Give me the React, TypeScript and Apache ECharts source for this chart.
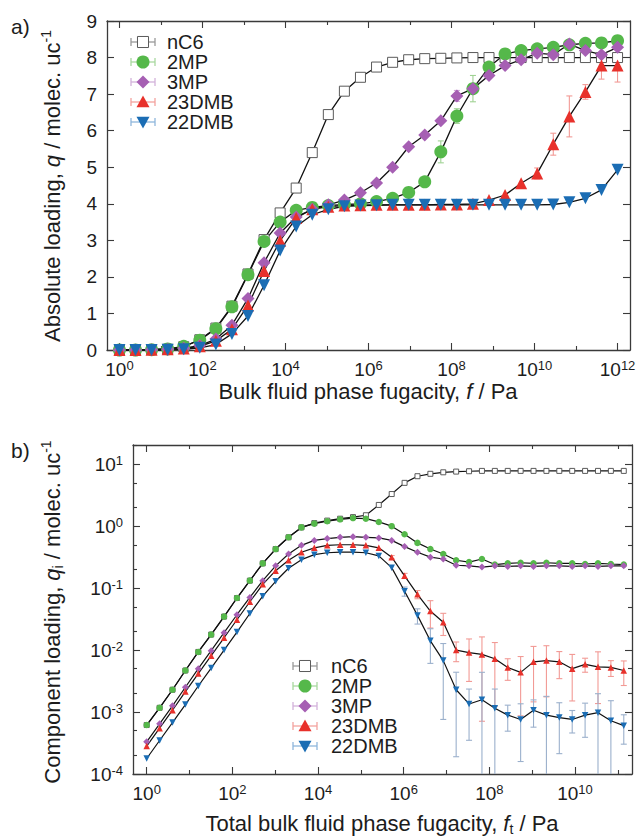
import { useEffect, useRef } from 'react';
import * as echarts from 'echarts';

// ---------- data ----------
const species = ['nC6', '2MP', '3MP', '23DMB', '22DMB'];

// (a) pure-component isotherms: fugacity (Pa) and absolute loading (molec./uc)
const pureFugacityPa = [
  1, 2.438, 5.945, 14.5, 35.35, 86.2, 210.2, 512.5, 1250, 3047,
  7430, 1.812e4, 4.417e4, 1.077e5, 2.626e5, 6.404e5, 1.562e6, 3.808e6, 9.284e6, 2.264e7,
  5.52e7, 1.346e8, 3.282e8, 8.002e8, 1.951e9, 4.758e9, 1.16e10, 2.829e10, 6.898e10, 1.682e11,
  4.101e11, 1e12,
];
const pureNC6 = [
  0.0, 0.0, 0.01, 0.02, 0.09, 0.28, 0.6, 1.2, 2.08, 3.02,
  3.75, 4.43, 5.4, 6.44, 7.08, 7.46, 7.74, 7.87, 7.94, 7.97,
  7.98, 7.99, 8.0, 8.0, 8.0, 8.0, 8.0, 8.0, 8.0, 8.0,
  8.0, 8.0,
];
const pure2MP = [
  0.0, 0.0, 0.01, 0.03, 0.1, 0.27, 0.58, 1.18, 2.06, 2.97,
  3.5, 3.82, 3.9, 3.95, 3.98, 4.0, 4.06, 4.15, 4.31, 4.6,
  5.42, 6.4, 7.15, 7.74, 8.1, 8.19, 8.24, 8.28, 8.35, 8.39,
  8.4, 8.46,
];
const pure3MP = [
  0.0, 0.0, 0.01, 0.02, 0.05, 0.12, 0.3, 0.68, 1.41, 2.39,
  3.2, 3.64, 3.85, 3.97, 4.1, 4.3, 4.57, 5.0, 5.56, 5.88,
  6.27, 6.95, 7.15, 7.51, 7.78, 7.94, 8.12, 8.08, 8.37, 8.19,
  8.08, 8.28,
];
const pure23DMB = [
  0.0, 0.0, 0.01, 0.02, 0.04, 0.1, 0.25, 0.57, 1.22, 2.16,
  2.99, 3.61, 3.85, 3.92, 3.95, 3.96, 3.97, 3.97, 3.97, 3.97,
  3.98, 3.98, 4.0, 4.1, 4.24, 4.56, 4.83, 5.63, 6.39, 7.06,
  7.78, 7.78,
];
const pure22DMB = [
  0.0, 0.0, 0.0, 0.01, 0.02, 0.06, 0.15, 0.44, 0.93, 1.77,
  2.72, 3.38, 3.7, 3.85, 3.93, 3.95, 3.96, 3.97, 3.97, 3.97,
  3.97, 3.97, 3.97, 3.97, 3.97, 3.97, 3.97, 3.98, 4.04, 4.15,
  4.38, 4.93,
];
const pureErr2MP = [
  0, 0, 0, 0, 0, 0, 0, 0, 0, 0,
  0, 0, 0, 0, 0, 0, 0, 0, 0, 0,
  0.3, 0.2, 0.36, 0, 0, 0, 0, 0, 0, 0,
  0, 0,
];
const pureErr3MP = [
  0, 0, 0, 0, 0, 0, 0, 0, 0, 0,
  0, 0, 0, 0, 0, 0, 0, 0, 0, 0,
  0, 0.15, 0.12, 0, 0, 0, 0, 0, 0, 0,
  0, 0,
];
const pureErr23DMB = [
  0, 0, 0, 0, 0, 0, 0, 0, 0, 0,
  0, 0, 0, 0, 0, 0, 0, 0, 0, 0,
  0, 0, 0, 0, 0, 0, 0.15, 0.3, 0.56, 0.2,
  0.37, 0.45,
];

// (b) equimolar mixture: total fugacity (Pa) and component loadings (molec./uc)
const mixFugacityPa = [
  1, 2, 4, 8, 16, 32, 64, 128, 256, 512,
  1024, 2048, 4096, 8192, 16384, 32768, 65536, 131072, 262144, 524288,
  1048576, 2097152, 4194304, 8388608, 16777216, 33554432, 67108864, 134217728, 268435456, 536870912,
  1073741824, 2147483648, 4294967296, 8589934592, 17179869184, 34359738368, 68719476736, 137438953472,
];
const mixNC6 = [
  6.17e-4, 1.17e-3, 2.29e-3, 4.68e-3, 9.33e-3, 0.0178, 0.0347, 0.0692, 0.132, 0.251,
  0.427, 0.661, 0.955, 1.12, 1.23, 1.32, 1.4, 1.5, 2.2, 3.3,
  5.0, 6.4, 7.0, 7.4, 7.6, 7.7, 7.8, 7.8, 7.8, 7.8,
  7.8, 7.8, 7.8, 7.8, 7.8, 7.8, 7.8, 7.8,
];
const mix2MP = [
  6.17e-4, 1.17e-3, 2.29e-3, 4.68e-3, 9.33e-3, 0.0178, 0.0347, 0.0692, 0.132, 0.251,
  0.427, 0.661, 0.955, 1.1, 1.2, 1.29, 1.35, 1.32, 1.17, 1.0,
  0.741, 0.537, 0.427, 0.355, 0.282, 0.263, 0.295, 0.24, 0.251, 0.257,
  0.251, 0.257, 0.251, 0.251, 0.245, 0.251, 0.245, 0.24,
];
const mix3MP = [
  3.31e-4, 6.46e-4, 1.26e-3, 2.51e-3, 5.01e-3, 9.77e-3, 0.0191, 0.0372, 0.0708, 0.132,
  0.229, 0.355, 0.49, 0.589, 0.631, 0.661, 0.676, 0.661, 0.646, 0.589,
  0.468, 0.38, 0.316, 0.295, 0.234, 0.229, 0.219, 0.229, 0.224, 0.229,
  0.224, 0.229, 0.229, 0.224, 0.229, 0.224, 0.229, 0.229,
];
const mix23DMB = [
  2.82e-4, 5.5e-4, 1.07e-3, 2.14e-3, 4.17e-3, 8.13e-3, 0.0158, 0.0309, 0.0603, 0.115,
  0.191, 0.282, 0.38, 0.447, 0.49, 0.501, 0.501, 0.49, 0.447, 0.316,
  0.158, 0.0794, 0.0427, 0.0282, 0.01, 0.00912, 0.00851, 0.00724, 0.00525, 0.00437,
  0.00646, 0.00676, 0.00646, 0.00501, 0.00589, 0.00537, 0.00525, 0.00468,
];
const mix22DMB = [
  1.78e-4, 3.47e-4, 6.76e-4, 1.32e-3, 2.63e-3, 5.13e-3, 0.01, 0.0195, 0.0389, 0.0741,
  0.129, 0.209, 0.288, 0.347, 0.372, 0.38, 0.38, 0.372, 0.331, 0.214,
  0.0891, 0.0363, 0.0141, 0.00676, 0.00229, 0.00135, 0.00158, 0.00115, 0.000891, 0.000759,
  0.00107, 0.000891, 0.000813, 0.000759, 0.000891, 0.000977, 0.000724, 0.000603,
];
const mixErr23DMB = [
  0, 0, 0, 0, 0, 0, 0, 0, 0, 0,
  0, 0, 0, 0, 0, 0, 0, 0, 0, 0.02,
  0.015, 0.012, 0.02, 0.011, 0.0035, 0.006, 0.0078, 0.006, 0.002, 0.0035,
  0.005, 0.005, 0.003, 0.0035, 0.0015, 0.004, 0.0015, 0.002,
];
const mixErr22DMB = [
  0, 0, 0, 0, 0, 0, 0, 0, 0, 0,
  0, 0, 0, 0, 0, 0, 0, 0, 0, 0,
  0.015, 0.01, 0.008, 0.006, 0.0021, 0.001, 0.0028, 0.0012, 0.0004, 0.0006,
  0.0005, 0.0009, 0.0006, 0.0003, 0.0005, 0.001, 0.0008, 0.0003,
];

// axis decades
const pureMajorDecades = [0, 2, 4, 6, 8, 10, 12];
const pureMinorDecades = [1, 3, 5, 7, 9, 11];
const mixMajorDecades = [0, 2, 4, 6, 8, 10];
const mixMinorDecades = [1, 3, 5, 7, 9, 11];
const loadingDecades = [-4, -3, -2, -1, 0, 1];

// ---------- styling ----------
const FONT = '"Liberation Sans", Arial, Helvetica, sans-serif';
const TXT = '#1c1c1c';
const AXIS = '#3a3a3a';
const LOG_Q_MIN = -4;

const LOOK: Record<string, any> = {
  nC6: { symbol: 'rect', fill: '#ffffff', stroke: '#5a5a5a', whisker: '#9a9a9a', err: '#9a9a9a', big: 10, small: 5 },
  '2MP': { symbol: 'circle', fill: '#55b84a', stroke: null, whisker: '#a9d8a0', err: '#9fd293', big: 13, small: 6.5 },
  '3MP': { symbol: 'diamond', fill: '#a65fb3', stroke: null, whisker: '#d3b2da', err: '#cfa6d8', big: 13, small: 7 },
  '23DMB': { symbol: 'triangle', fill: '#e8312b', stroke: null, whisker: '#f3a29e', err: '#f29a95', big: 12, small: 6.5 },
  '22DMB': { symbol: 'triangle', rotate: 180, fill: '#1b6db4', stroke: null, whisker: '#8fb6dc', err: '#9bb0cc', big: 12, small: 6.5 },
};

const tickStyle = { color: AXIS, width: 1.1 };
const lineStyleAxis = { color: AXIS, width: 1.3 };

const powRich = {
  b: { fontSize: 19, fontFamily: FONT, color: TXT, lineHeight: 20 },
  s: { fontSize: 13, fontFamily: FONT, color: TXT, verticalAlign: 'top', lineHeight: 12 },
};
const powLabel = (v: number) => `{b|10}{s|${Math.round(v)}}`;

function xAxesFor(gridIndex: number, min: number, max: number, major: number[], minor: number[]) {
  const base = { gridIndex, type: 'value', min, max, splitLine: { show: false } };
  const hidden = { show: false };
  return [
    {
      ...base, position: 'bottom',
      axisLine: { show: true, onZero: false, lineStyle: lineStyleAxis },
      axisTick: { show: true, inside: true, length: 7, customValues: major, lineStyle: tickStyle },
      axisLabel: { show: true, customValues: major, margin: 9, formatter: powLabel, rich: powRich },
    },
    {
      ...base, position: 'bottom',
      axisLine: { show: false, onZero: false },
      axisTick: { show: true, inside: true, length: 4, customValues: minor, lineStyle: tickStyle },
      axisLabel: hidden,
    },
    {
      ...base, position: 'top',
      axisLine: { show: true, onZero: false, lineStyle: lineStyleAxis },
      axisTick: { show: true, inside: true, length: 7, customValues: major, lineStyle: tickStyle },
      axisLabel: hidden,
    },
    {
      ...base, position: 'top',
      axisLine: { show: false, onZero: false },
      axisTick: { show: true, inside: true, length: 4, customValues: minor, lineStyle: tickStyle },
      axisLabel: hidden,
    },
  ];
}

function lineSeries(name: string, xs: number[], ys: number[], xAxisIndex: number, yAxisIndex: number, big: boolean, logY: boolean) {
  const s = LOOK[name];
  return {
    name,
    type: 'line',
    xAxisIndex,
    yAxisIndex,
    data: xs.map((f, i) => [Math.log10(f), logY ? Math.log10(ys[i]) : ys[i]]),
    symbol: s.symbol,
    symbolSize: big ? s.big : s.small,
    symbolRotate: s.rotate || 0,
    showSymbol: true,
    clip: false,
    lineStyle: { color: '#111', width: big ? 1.3 : 1.2 },
    itemStyle: {
      color: s.fill,
      borderColor: s.stroke || s.fill,
      borderWidth: s.stroke ? 1 : 0,
      opacity: 1,
    },
    emphasis: { disabled: true },
    z: 3,
  };
}

function errorSeries(name: string, xs: number[], ys: number[], errs: number[], xAxisIndex: number, yAxisIndex: number, logY: boolean, cap: number) {
  const s = LOOK[name];
  const data: number[][] = [];
  xs.forEach((f, i) => {
    const e = errs[i];
    if (!e) return;
    const hiV = ys[i] + e;
    const loV = ys[i] - e;
    if (logY) {
      const loOk = loV > Math.pow(10, LOG_Q_MIN);
      data.push([Math.log10(f), loOk ? Math.log10(loV) : LOG_Q_MIN, Math.log10(hiV), loOk ? 1 : 0]);
    } else {
      data.push([Math.log10(f), loV, hiV, 1]);
    }
  });
  return {
    type: 'custom',
    xAxisIndex,
    yAxisIndex,
    data,
    silent: true,
    clip: true,
    z: 2,
    renderItem: (_p: any, api: any) => {
      const x = api.value(0);
      const top = api.coord([x, api.value(2)]);
      const bot = api.coord([x, api.value(1)]);
      const style = { stroke: s.err, lineWidth: 1.1 };
      const children: any[] = [
        { type: 'line', shape: { x1: top[0], y1: top[1], x2: bot[0], y2: bot[1] }, style },
        { type: 'line', shape: { x1: top[0] - cap, y1: top[1], x2: top[0] + cap, y2: top[1] }, style },
      ];
      if (api.value(3)) {
        children.push({ type: 'line', shape: { x1: bot[0] - cap, y1: bot[1], x2: bot[0] + cap, y2: bot[1] }, style });
      }
      return { type: 'group', children };
    },
  };
}

function marker(name: string, cx: number, cy: number, size: number) {
  const s = LOOK[name];
  const h = size / 2;
  if (name === 'nC6') {
    const w = size * 0.85;
    return { type: 'rect', shape: { x: cx - w / 2, y: cy - w / 2, width: w, height: w }, style: { fill: '#fff', stroke: s.stroke, lineWidth: 1 }, z: 20 };
  }
  if (name === '2MP') return { type: 'circle', shape: { cx, cy, r: h }, style: { fill: s.fill }, z: 20 };
  if (name === '3MP') {
    return { type: 'polygon', shape: { points: [[cx, cy - h], [cx + h, cy], [cx, cy + h], [cx - h, cy]] }, style: { fill: s.fill }, z: 20 };
  }
  if (name === '23DMB') {
    return { type: 'polygon', shape: { points: [[cx, cy - h], [cx + h, cy + h * 0.8], [cx - h, cy + h * 0.8]] }, style: { fill: s.fill }, z: 20 };
  }
  return { type: 'polygon', shape: { points: [[cx, cy + h], [cx + h, cy - h * 0.8], [cx - h, cy - h * 0.8]] }, style: { fill: s.fill }, z: 20 };
}

function legendBlock(cx: number, textX: number, rows: number[]) {
  const els: any[] = [];
  species.forEach((name, i) => {
    const y = rows[i];
    const c = LOOK[name].whisker;
    const st = { stroke: c, lineWidth: 1.3 };
    els.push({ type: 'line', shape: { x1: cx - 12, y1: y, x2: cx + 12, y2: y }, style: st, z: 19 });
    els.push({ type: 'line', shape: { x1: cx - 12, y1: y - 4, x2: cx - 12, y2: y + 4 }, style: st, z: 19 });
    els.push({ type: 'line', shape: { x1: cx + 12, y1: y - 4, x2: cx + 12, y2: y + 4 }, style: st, z: 19 });
    els.push(marker(name, cx, y, 13));
    els.push({
      type: 'text', x: textX, y, z: 20,
      style: {
        text: name, fill: TXT, font: `20px ${FONT}`,
        align: 'left', verticalAlign: 'middle', textAlign: 'left', textVerticalAlign: 'middle',
      },
    });
  });
  return els;
}

const titleRich = {
  n: { fontSize: 22, fontFamily: FONT, fill: TXT, color: TXT, lineHeight: 26 },
  i: { fontSize: 22, fontFamily: FONT, fontStyle: 'italic', fill: TXT, color: TXT, lineHeight: 26 },
  s: { fontSize: 14, fontFamily: FONT, fill: TXT, color: TXT, verticalAlign: 'top', lineHeight: 14 },
  d: { fontSize: 14, fontFamily: FONT, fill: TXT, color: TXT, verticalAlign: 'bottom', lineHeight: 14 },
};

function title(text: string, x: number, y: number, vertical: boolean) {
  return {
    type: 'text', x, y, rotation: vertical ? Math.PI / 2 : 0, z: 20,
    style: {
      text, rich: titleRich, fill: TXT, font: `22px ${FONT}`,
      align: 'center', verticalAlign: 'middle', textAlign: 'center', textVerticalAlign: 'middle',
    },
  };
}

function panelTag(text: string, x: number, y: number) {
  return {
    type: 'text', x, y, z: 20,
    style: { text, fill: TXT, font: `21px ${FONT}`, align: 'left', verticalAlign: 'middle', textAlign: 'left', textVerticalAlign: 'middle' },
  };
}

function buildOption() {
  const pureSeries = [pureNC6, pure2MP, pure3MP, pure23DMB, pure22DMB];
  const mixSeries = [mixNC6, mix2MP, mix3MP, mix23DMB, mix22DMB];

  const minorLoad: number[] = [];
  loadingDecades.forEach((d) => {
    [2, 5].forEach((m) => {
      const v = d + Math.log10(m);
      if (v <= 1.31) minorLoad.push(v);
    });
  });

  const yLoadBase = { gridIndex: 1, type: 'value', min: LOG_Q_MIN, max: 1.31, splitLine: { show: false } };

  return {
    animation: false,
    backgroundColor: '#ffffff',
    textStyle: { fontFamily: FONT },
    grid: [
      { left: 107, top: 21, width: 523, height: 329 },
      { left: 133, top: 445, width: 499, height: 329 },
    ],
    xAxis: [
      ...xAxesFor(0, -0.3, 12.3, pureMajorDecades, pureMinorDecades),
      ...xAxesFor(1, -0.32, 11.33, mixMajorDecades, mixMinorDecades),
    ],
    yAxis: [
      {
        gridIndex: 0, type: 'value', min: 0, max: 9, interval: 1, position: 'left',
        splitLine: { show: false },
        axisLine: { show: true, onZero: false, lineStyle: lineStyleAxis },
        axisTick: { show: true, inside: true, length: 7, lineStyle: tickStyle },
        axisLabel: { show: true, margin: 10, fontSize: 19, fontFamily: FONT, color: TXT },
      },
      {
        gridIndex: 0, type: 'value', min: 0, max: 9, interval: 1, position: 'right',
        splitLine: { show: false },
        axisLine: { show: true, onZero: false, lineStyle: lineStyleAxis },
        axisTick: { show: true, inside: true, length: 7, lineStyle: tickStyle },
        axisLabel: { show: false },
      },
      {
        ...yLoadBase, position: 'left',
        axisLine: { show: true, onZero: false, lineStyle: lineStyleAxis },
        axisTick: { show: true, inside: true, length: 7, customValues: loadingDecades, lineStyle: tickStyle },
        axisLabel: { show: true, customValues: loadingDecades, margin: 10, formatter: powLabel, rich: powRich },
      },
      {
        ...yLoadBase, position: 'left',
        axisLine: { show: false, onZero: false },
        axisTick: { show: true, inside: true, length: 4, customValues: minorLoad, lineStyle: tickStyle },
        axisLabel: { show: false },
      },
      {
        ...yLoadBase, position: 'right',
        axisLine: { show: true, onZero: false, lineStyle: lineStyleAxis },
        axisTick: { show: true, inside: true, length: 7, customValues: loadingDecades, lineStyle: tickStyle },
        axisLabel: { show: false },
      },
      {
        ...yLoadBase, position: 'right',
        axisLine: { show: false, onZero: false },
        axisTick: { show: true, inside: true, length: 4, customValues: minorLoad, lineStyle: tickStyle },
        axisLabel: { show: false },
      },
    ],
    series: [
      errorSeries('2MP', pureFugacityPa, pure2MP, pureErr2MP, 0, 0, false, 3),
      errorSeries('3MP', pureFugacityPa, pure3MP, pureErr3MP, 0, 0, false, 3),
      errorSeries('23DMB', pureFugacityPa, pure23DMB, pureErr23DMB, 0, 0, false, 3),
      ...species.map((n, i) => lineSeries(n, pureFugacityPa, pureSeries[i], 0, 0, true, false)),
      errorSeries('23DMB', mixFugacityPa, mix23DMB, mixErr23DMB, 4, 2, true, 3),
      errorSeries('22DMB', mixFugacityPa, mix22DMB, mixErr22DMB, 4, 2, true, 3),
      ...species.map((n, i) => lineSeries(n, mixFugacityPa, mixSeries[i], 4, 2, false, true)),
    ],
    graphic: {
      elements: [
        panelTag('a)', 11, 26),
        panelTag('b)', 11, 450),
        title('{n|Absolute loading, }{i|q}{n| / molec. uc}{s|-1}', 52, 186, true),
        title('{n|Bulk fluid phase fugacity, }{i|f}{n| / Pa}', 368, 391, false),
        title('{n|Component loading, }{i|q}{d|i}{n| / molec. uc}{s|-1}', 52, 612, true),
        title('{n|Total bulk fluid phase fugacity, }{i|f}{d|t}{n| / Pa}', 382, 823, false),
        ...legendBlock(143, 167, [42, 62, 82, 102, 122]),
        ...legendBlock(305, 331, [666, 686, 706, 726, 746]),
      ],
    },
  };
}

export default function App() {
  const ref = useRef<HTMLDivElement>(null);
  useEffect(() => {
    if (!ref.current) return;
    const chart = echarts.init(ref.current, null, { renderer: 'svg' });
    chart.setOption(buildOption() as any);
    return () => chart.dispose();
  }, []);
  return (
    <div
      ref={ref}
      style={{ position: 'absolute', left: 0, top: 0, width: 640, height: 836, background: '#fff' }}
    />
  );
}
